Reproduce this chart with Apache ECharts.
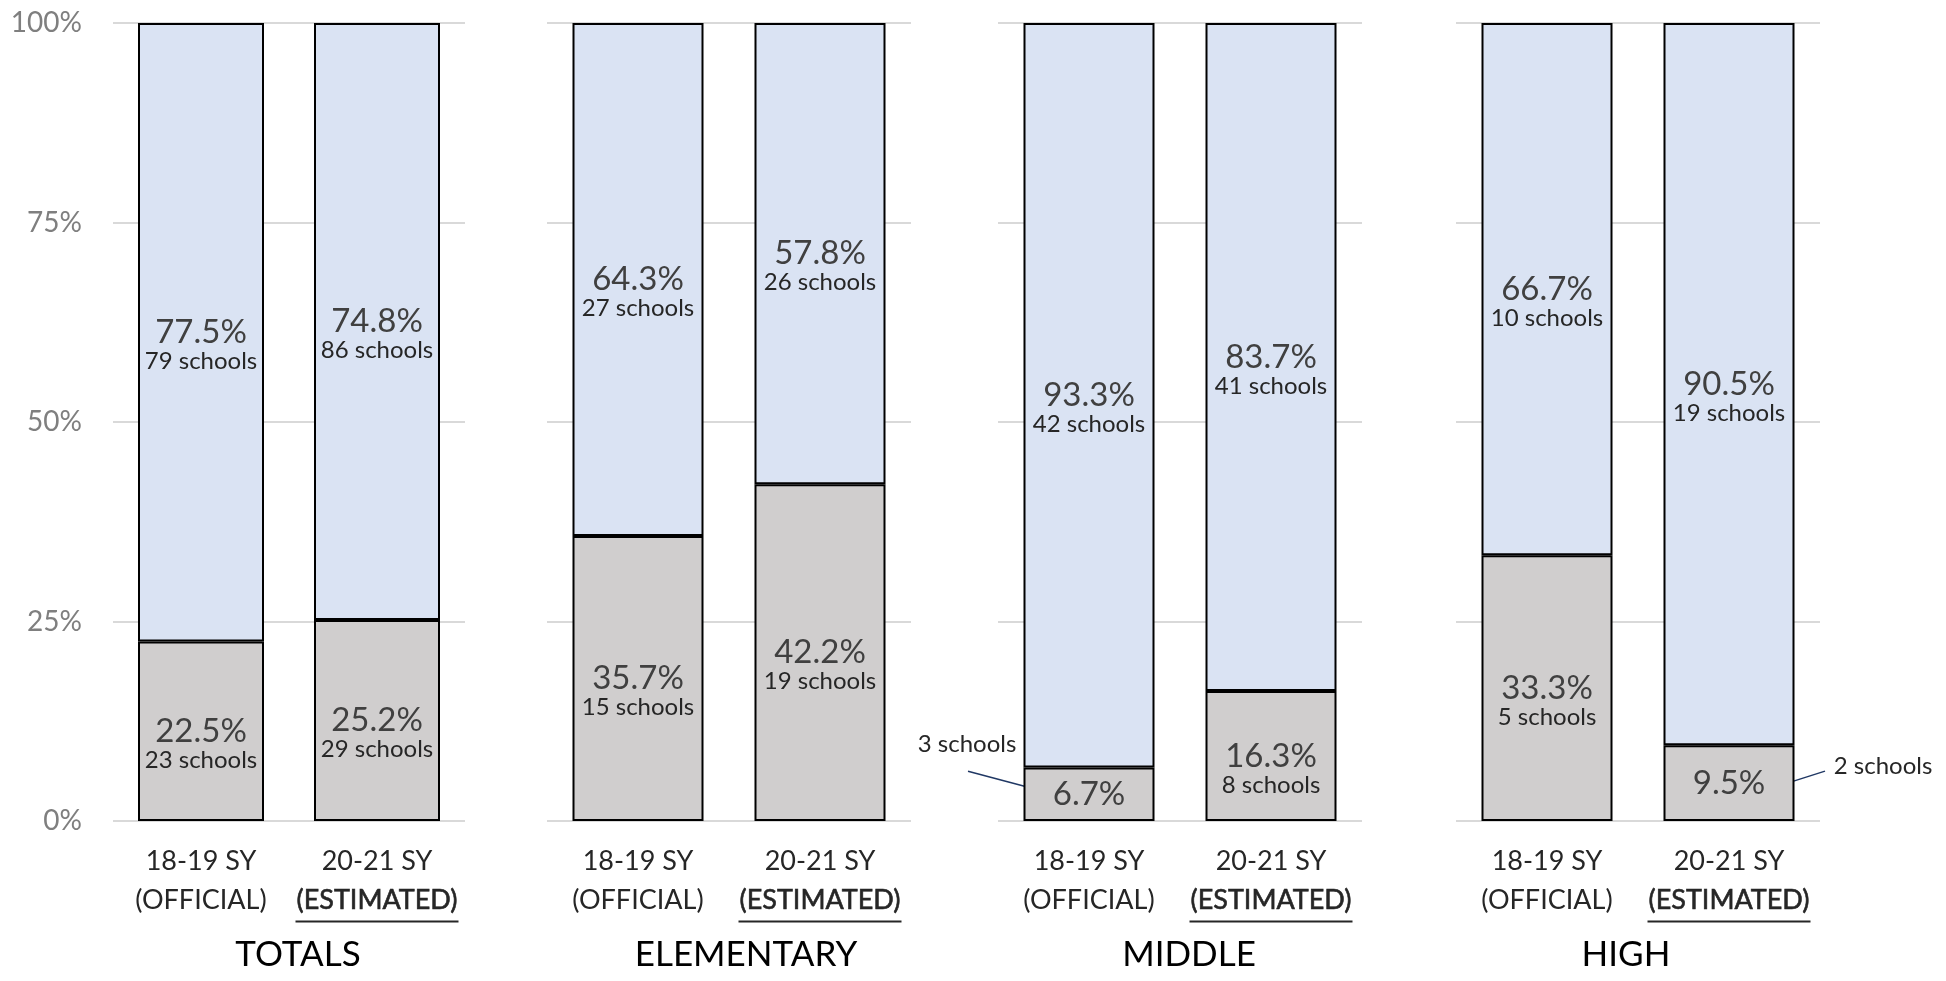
<!DOCTYPE html>
<html>
<head>
<meta charset="utf-8">
<script src="https://cdn.jsdelivr.net/npm/echarts@6/dist/echarts.min.js"></script>
<style>
html,body{margin:0;padding:0;background:#fff;}
#chart{width:1946px;height:981px;}
</style>
</head>
<body>
<div id="chart"></div>
<script>
// ---- data ----
const groups = ['TOTALS', 'ELEMENTARY', 'MIDDLE', 'HIGH'];
const years = ['18-19 SY', '20-21 SY'];
const yearNotes = ['(OFFICIAL)', '(ESTIMATED)'];
const yTicks = [0, 25, 50, 75, 100];
// lower (gray) segment: percent and school counts, per group [18-19, 20-21]
const lowerPct = [[22.5, 25.2], [35.7, 42.2], [6.7, 16.3], [33.3, 9.5]];
const lowerSchools = [[23, 29], [15, 19], [3, 8], [5, 2]];
// upper (blue) segment
const upperPct = [[77.5, 74.8], [64.3, 57.8], [93.3, 83.7], [66.7, 90.5]];
const upperSchools = [[79, 86], [27, 26], [42, 41], [10, 19]];
// lower labels whose school count is shown as a callout outside the bar
const calloutLower = [[false, false], [false, false], [true, false], [false, true]];

// ---- layout / style ----
const FONT = 'Lato';
const panels = [
  {left: 113, width: 352, bar: 126, titleX: 293},
  {left: 547, width: 364, bar: 131, titleX: 741},
  {left: 998, width: 364, bar: 131, titleX: 1184},
  {left: 1456, width: 364, bar: 131, titleX: 1621}
];
const GRAY = '#d0cece', BLUE = '#dae3f3';

function measure(text, font) {
  const c = document.createElement('canvas').getContext('2d');
  c.font = font;
  return c.measureText(text).width;
}
const estW = Math.round(measure(yearNotes[1], '27px ' + FONT)) + 2;

const labelRich = {
  p: {fontSize: 33, lineHeight: 32, color: '#404040', fontFamily: FONT},
  s: {fontSize: 24, lineHeight: 26, color: '#262626', fontFamily: FONT}
};

const chart = echarts.init(document.getElementById('chart'), null, {renderer: 'canvas'});

const option = {
  backgroundColor: '#fff',
  animation: false,
  title: groups.map((g, i) => ({
    text: g, left: panels[i].titleX, top: 930, textAlign: 'center',
    textStyle: {fontSize: 35, fontWeight: 'normal', color: '#000', fontFamily: FONT, lineHeight: 40}
  })),
  grid: panels.map(p => ({left: p.left, width: p.width, top: 23, bottom: 160})),
  xAxis: groups.map((g, i) => ({
    type: 'category', gridIndex: i, data: years,
    axisLine: {show: false}, axisTick: {show: false},
    axisLabel: {
      margin: 21, interval: 0,
      formatter: (v, j) => j === 0
        ? `{a|${v}}\n{a|${yearNotes[0]}}`
        : `{a|${v}}\n{b|${yearNotes[1]}}\n{u| }`,
      rich: {
        a: {fontSize: 27, lineHeight: 39, color: '#262626', fontFamily: FONT},
        b: {fontSize: 27, lineHeight: 39, color: '#262626', fontFamily: FONT, textBorderColor: '#262626', textBorderWidth: 0.6},
        u: {width: estW, height: 2, lineHeight: 3, fontSize: 1, backgroundColor: '#262626'}
      }
    }
  })),
  yAxis: groups.map((g, i) => ({
    type: 'value', gridIndex: i, min: 0, max: 100, interval: 25,
    axisLine: {show: false}, axisTick: {show: false},
    splitLine: {show: true, lineStyle: {color: '#d9d9d9', width: 2}},
    axisLabel: {
      show: i === 0, margin: 31, fontSize: 28, color: '#7f7f7f', fontFamily: FONT,
      formatter: v => yTicks.includes(v) ? v + '%' : ''
    }
  })),
  series: []
};

groups.forEach((g, i) => {
  option.series.push({
    type: 'bar', xAxisIndex: i, yAxisIndex: i, stack: 'g' + i,
    barWidth: panels[i].bar,
    itemStyle: {color: GRAY, borderColor: '#000', borderWidth: 2},
    data: lowerPct[i].map((v, j) => {
      const d = {value: v};
      if (calloutLower[i][j]) {
        d.label = {show: true, position: 'inside', offset: [0, 0],
          formatter: `{p|${v.toFixed(1)}%}`, rich: labelRich};
      }
      return d;
    }),
    label: {
      show: true, position: 'inside', offset: [0, 13],
      formatter: p => `{p|${p.value.toFixed(1)}%}\n{s|${lowerSchools[i][p.dataIndex]} schools}`,
      rich: labelRich
    }
  });
  option.series.push({
    type: 'bar', xAxisIndex: i, yAxisIndex: i, stack: 'g' + i,
    barWidth: panels[i].bar,
    itemStyle: {color: BLUE, borderColor: '#000', borderWidth: 2},
    data: upperPct[i],
    label: {
      show: true, position: 'inside', offset: [0, 13],
      formatter: p => `{p|${p.value.toFixed(1)}%}\n{s|${upperSchools[i][p.dataIndex]} schools}`,
      rich: labelRich
    }
  });
});

chart.setOption(option);

// callouts for small segments (offsets relative to the segment centre)
const calloutStyle = [
  {g: 2, c: 0, tx: -122, ty: -50, x1: -121, y1: -23, x2: -57, y2: -6},
  {g: 3, c: 1, tx: 154, ty: -17, x1: 52, y1: 2, x2: 96, y2: -12}
];
const graphics = [];
calloutStyle.forEach(cs => {
  if (!calloutLower[cs.g][cs.c]) return;
  const v = lowerPct[cs.g][cs.c];
  const pt = chart.convertToPixel({gridIndex: cs.g}, [cs.c, v / 2]);
  graphics.push({
    type: 'text', x: pt[0] + cs.tx, y: pt[1] + cs.ty,
    style: {text: lowerSchools[cs.g][cs.c] + ' schools', fontSize: 24, fontFamily: FONT,
      fill: '#262626', align: 'center', verticalAlign: 'middle'}
  });
  graphics.push({
    type: 'line',
    shape: {x1: pt[0] + cs.x1, y1: pt[1] + cs.y1, x2: pt[0] + cs.x2, y2: pt[1] + cs.y2},
    style: {stroke: '#203864', lineWidth: 1.5}
  });
});
chart.setOption({graphic: graphics});
</script>
</body>
</html>
